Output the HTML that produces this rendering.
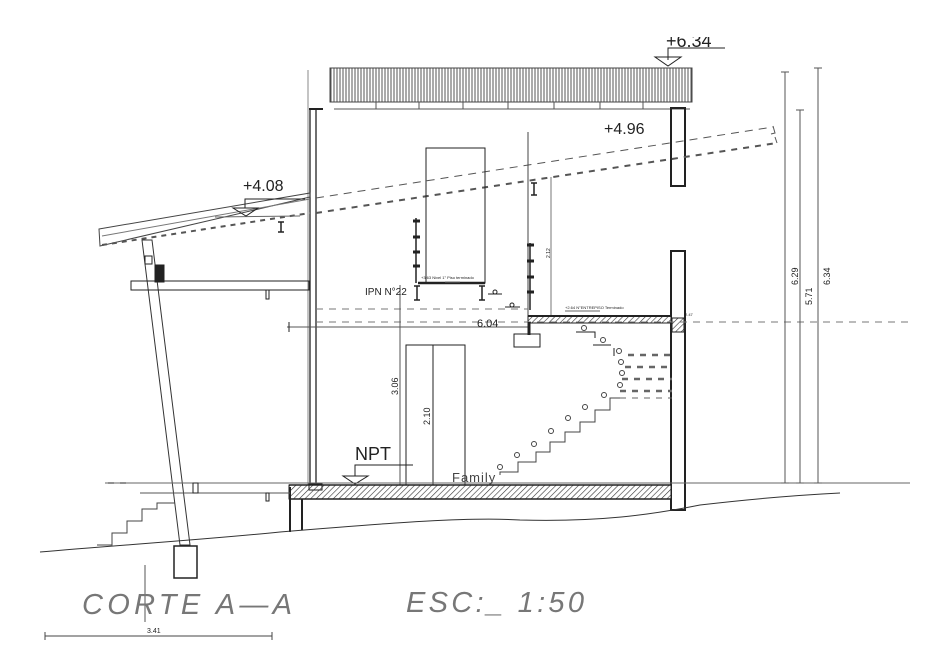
<!DOCTYPE html>
<html><head><meta charset="utf-8"><style>html,body{margin:0;padding:0;background:#fff}svg{display:block}text{font-family:"Liberation Sans",sans-serif}</style></head><body>
<svg width="948" height="670" viewBox="0 0 948 670" xmlns="http://www.w3.org/2000/svg">
<defs>
<pattern id="vl" width="3" height="10" patternUnits="userSpaceOnUse"><rect width="3" height="10" fill="#fff"/><line x1="1" y1="0" x2="1" y2="10" stroke="#555" stroke-width="1"/></pattern>
<pattern id="hat" width="4" height="4" patternUnits="userSpaceOnUse" patternTransform="rotate(45)"><rect width="4" height="4" fill="#fff"/><line x1="0" y1="0" x2="0" y2="4" stroke="#333" stroke-width="1.2"/></pattern>
</defs>
<g fill="none" stroke="#222" stroke-width="1">
<rect x="330" y="68" width="362" height="34" fill="url(#vl)" stroke="#444"/>
<line x1="334" y1="109" x2="690" y2="109" stroke="#555"/>
<g stroke="#555"><line x1="376" y1="102" x2="376" y2="109"/><line x1="419" y1="102" x2="419" y2="109"/><line x1="463" y1="102" x2="463" y2="109"/><line x1="508" y1="102" x2="508" y2="109"/><line x1="554" y1="102" x2="554" y2="109"/><line x1="600" y1="102" x2="600" y2="109"/><line x1="643" y1="102" x2="643" y2="109"/></g>
<polyline points="668,60 668,48 725,48"/>
<polygon points="655,57 681,57 668,66"/>
<line x1="308" y1="70" x2="308" y2="488" stroke="#888"/>
<rect x="310" y="109" width="6" height="378" stroke-width="1.3"/>
<line x1="309" y1="109" x2="323" y2="109" stroke-width="2"/>
<rect x="671" y="108" width="14" height="78" stroke-width="2"/>
<rect x="671" y="251" width="14" height="259" stroke-width="2"/>
<rect x="672" y="318" width="12" height="14" fill="url(#hat)"/>
<line x1="316" y1="198" x2="773" y2="127" stroke-dasharray="8,6" stroke="#555"/>
<line x1="316" y1="213" x2="777" y2="143" stroke-dasharray="6,6" stroke-width="2" stroke="#555"/>
<polyline points="773,126 775,133 771,134" stroke="#555"/><polyline points="775,137 777,143" stroke="#555"/>
<polygon points="99,229 310,193 310,197 100,246" stroke="#444"/>
<line x1="102" y1="236" x2="310" y2="199" stroke="#777"/>
<line x1="102" y1="245" x2="310" y2="213" stroke-dasharray="5,5" stroke-width="2" stroke="#555"/>
<line x1="215" y1="217" x2="300" y2="216" stroke="#666"/>
<polyline points="245,208 245,199 305,199"/>
<polygon points="233,208 258,208 246,216"/>
<g stroke-width="1.5"><path d="M278 222 h6 M281 222 v10 M278 232 h6"/><path d="M531 183 h6 M534 183 v12 M531 195 h6"/><path d="M414 286 h6 M417 286 v14 M414 300 h6"/><path d="M479 286 h6 M482 286 v14 M479 300 h6"/></g>
<polygon points="142,240 152,240 190,545 180,545" stroke="#333"/>
<rect x="145" y="256" width="7" height="8"/>
<rect x="155" y="265" width="9" height="17" fill="#222"/>
<rect x="174" y="546" width="23" height="32" stroke-width="1.5"/>
<rect x="131" y="281" width="178" height="9"/>
<rect x="266" y="290" width="3" height="9"/>
<rect x="426" y="148" width="59" height="135"/>
<line x1="418" y1="283" x2="485" y2="283" stroke-width="2.5"/>
<line x1="416" y1="218" x2="416" y2="283" stroke-width="1.5"/>
<g stroke-width="3"><line x1="413" y1="221" x2="420" y2="221"/><line x1="413" y1="237" x2="420" y2="237"/><line x1="413" y1="252" x2="420" y2="252"/><line x1="413" y1="266" x2="420" y2="266"/></g>
<line x1="445" y1="282" x2="460" y2="282" stroke="#666"/>
<line x1="488" y1="294" x2="502" y2="294"/><circle cx="495" cy="292" r="2"/>
<line x1="505" y1="307" x2="520" y2="307"/><circle cx="512" cy="305" r="2"/>
<line x1="528" y1="132" x2="528" y2="330" stroke="#444"/>
<line x1="551" y1="177" x2="551" y2="318" stroke="#777"/>
<line x1="530" y1="243" x2="530" y2="310" stroke-width="1.5"/>
<g stroke-width="3"><line x1="527" y1="245" x2="534" y2="245"/><line x1="527" y1="261" x2="534" y2="261"/><line x1="527" y1="277" x2="534" y2="277"/><line x1="527" y1="292" x2="534" y2="292"/></g>
<rect x="528" y="316" width="143" height="7" fill="url(#hat)"/>
<line x1="528" y1="316" x2="671" y2="316" stroke-width="2"/>
<line x1="565" y1="311" x2="600" y2="311" stroke="#666"/>
<line x1="316" y1="309" x2="528" y2="309" stroke-dasharray="7,6" stroke="#777"/>
<line x1="316" y1="322" x2="910" y2="322" stroke-dasharray="7,6" stroke="#777"/>
<line x1="287" y1="327" x2="528" y2="327" stroke="#555"/>
<line x1="289" y1="322" x2="289" y2="332"/>
<line x1="529" y1="322" x2="529" y2="335" stroke-width="3"/>
<rect x="514" y="334" width="26" height="13"/>
<rect x="406" y="345" width="59" height="140"/>
<line x1="433" y1="345" x2="433" y2="485"/>
<line x1="400" y1="285" x2="400" y2="485" stroke="#555"/>
<polyline points="355,476 355,465 413,465"/>
<polygon points="343,476 368,476 355,484"/>
<polyline points="500,475 500,472 518,472 518,462 536,462 536,452 550,452 550,442 565,442 565,432 580,432 580,422 595,422 595,410 610,410 610,398 622,398" stroke="#444"/>
<g stroke="#666" stroke-dasharray="6,6"><line x1="620" y1="398" x2="672" y2="398"/><line x1="628" y1="355" x2="672" y2="355" stroke-width="2.5"/><line x1="625" y1="367" x2="672" y2="367" stroke-width="2.5"/><line x1="622" y1="379" x2="672" y2="379" stroke-width="2.5"/><line x1="620" y1="391" x2="672" y2="391" stroke-width="2.5"/></g>
<polyline points="576,332 595,332 595,338" /><polyline points="593,345 611,345"/><line x1="614" y1="348" x2="614" y2="356"/>
<g stroke="#444"><circle cx="500" cy="467" r="2.5"/><circle cx="517" cy="455" r="2.5"/><circle cx="534" cy="444" r="2.5"/><circle cx="551" cy="431" r="2.5"/><circle cx="568" cy="418" r="2.5"/><circle cx="585" cy="407" r="2.5"/><circle cx="604" cy="395" r="2.5"/><circle cx="620" cy="385" r="2.5"/><circle cx="622" cy="373" r="2.5"/><circle cx="621" cy="362" r="2.5"/><circle cx="619" cy="351" r="2.5"/><circle cx="603" cy="340" r="2.5"/><circle cx="584" cy="328" r="2.5"/></g>
<rect x="289" y="485" width="382" height="14" fill="url(#hat)"/>
<line x1="289" y1="485" x2="671" y2="485" stroke-width="1.5"/>
<line x1="289" y1="499" x2="671" y2="499" stroke-width="1.5"/>
<rect x="309" y="484" width="13" height="6"/>
<line x1="290" y1="487" x2="290" y2="532" stroke-width="2"/>
<line x1="302" y1="499" x2="302" y2="530" stroke-width="2"/>
<line x1="105" y1="483" x2="910" y2="483" stroke="#666"/>
<line x1="108" y1="483" x2="128" y2="483" stroke-dasharray="6,6"/>
<line x1="140" y1="493" x2="290" y2="493" stroke="#555"/>
<rect x="193" y="483" width="5" height="10"/>
<rect x="266" y="493" width="3" height="8"/>
<polyline points="97,545 112,545 112,533 127,533 127,521 142,521 142,509 157,509 157,503 175,503" stroke="#444"/>
<path d="M40,552 C120,545 200,540 280,532 C400,522 470,517 520,520 C600,522 650,515 700,505 C760,498 800,495 840,493" stroke="#333"/>
<g stroke="#555"><line x1="785" y1="72" x2="785" y2="483"/><line x1="800" y1="110" x2="800" y2="483"/><line x1="818" y1="68" x2="818" y2="483"/>
<path d="M781 72h8M796 110h8M814 68h8M781 483h8M796 483h8M814 483h8"/></g>
<line x1="145" y1="565" x2="145" y2="622" stroke="#555"/>
<line x1="45" y1="636" x2="272" y2="636" stroke="#444"/>
<path d="M45 632v8M272 632v8" stroke="#444"/>
</g>
<g fill="#222">
<text x="666" y="47" font-size="18">+6.34</text>
<text x="243" y="191" font-size="16">+4.08</text>
<text x="604" y="134" font-size="16">+4.96</text>
<text x="365" y="295" font-size="10">IPN N°22</text>
<text x="421" y="279" font-size="4">+3.63 Nivel 1° Piso terminado</text>
<text x="565" y="309" font-size="4">+2.64 N°ENTREPISO Terminado</text>
<text x="685" y="316" font-size="4">2.47</text>
<text x="477" y="327" font-size="11">6.04</text>
<text x="355" y="460" font-size="18">NPT</text>
<text x="452" y="482" font-size="13" fill="#444" letter-spacing="1">Family</text>
<text font-size="9" transform="translate(398,395) rotate(-90)">3.06</text>
<text font-size="9" transform="translate(430,425) rotate(-90)">2.10</text>
<text font-size="5" transform="translate(550,258) rotate(-90)">2.12</text>
<text font-size="9" transform="translate(798,285) rotate(-90)">6.29</text>
<text font-size="9" transform="translate(812,305) rotate(-90)">5.71</text>
<text font-size="9" transform="translate(830,285) rotate(-90)">6.34</text>
<text x="147" y="633" font-size="7">3.41</text>
</g>
<rect x="640" y="0" width="120" height="37" fill="#fff"/>
<text x="82" y="614" font-size="29" font-style="italic" fill="#777" textLength="210" lengthAdjust="spacing">CORTE A—A</text>
<text x="406" y="612" font-size="29" font-style="italic" fill="#777" textLength="178" lengthAdjust="spacing">ESC:_ 1:50</text>
</svg>
</body></html>
